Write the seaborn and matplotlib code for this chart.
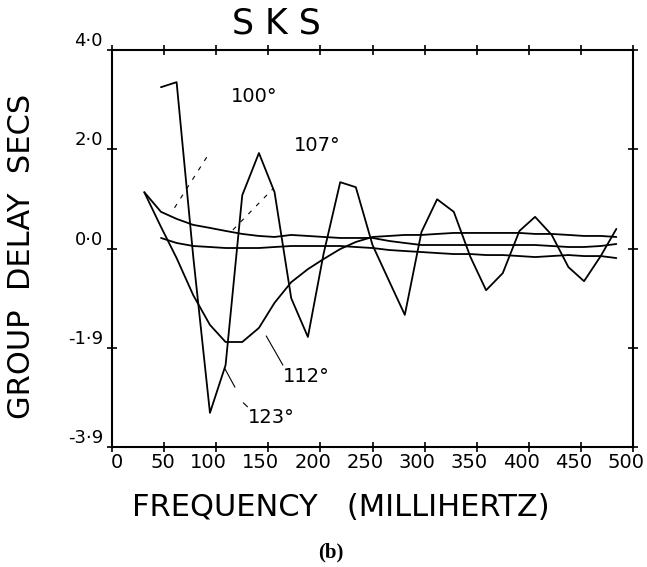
import matplotlib
matplotlib.use("Agg")
import matplotlib.pyplot as plt
import matplotlib.transforms as mtransforms
import seaborn as sns

# frequency samples (millihertz)
freq_a = [31, 47, 62, 78, 94, 109, 125, 141, 156, 172, 188, 203, 219, 234, 250,
          266, 281, 297, 312, 328, 344, 359, 375, 391, 406, 422, 438, 453, 469, 484]
freq_b = freq_a[1:]

# group delay (secs) for each distance
delay_100 = [1.17, 0.78, 0.64, 0.52, 0.46, 0.40, 0.34, 0.30, 0.28, 0.32, 0.30, 0.28, 0.26, 0.26, 0.26,
             0.20, 0.16, 0.12, 0.12, 0.12, 0.12, 0.12, 0.12, 0.12, 0.12, 0.10, 0.08, 0.08, 0.10, 0.14]
delay_107 = [0.26, 0.16, 0.10, 0.08, 0.06, 0.06, 0.06, 0.08, 0.10, 0.10, 0.10, 0.10, 0.08, 0.06,
             0.02, 0.00, -0.02, -0.04, -0.06, -0.06, -0.08, -0.08, -0.10, -0.12, -0.10, -0.08, -0.10, -0.10, -0.14]
delay_112 = [1.17, 0.48, -0.14, -0.88, -1.47, -1.81, -1.81, -1.53, -1.03, -0.62, -0.36, -0.16, 0.04, 0.18, 0.28,
             0.30, 0.32, 0.32, 0.34, 0.36, 0.36, 0.36, 0.36, 0.36, 0.34, 0.34, 0.32, 0.30, 0.30, 0.28]
delay_123 = [3.26, 3.36, -0.12, -3.22, -2.27, 1.11, 1.95, 1.17, -0.94, -1.71, -0.06, 1.37, 1.27, 0.12,
             -0.60, -1.27, 0.38, 1.03, 0.78, -0.12, -0.78, -0.44, 0.40, 0.68, 0.32, -0.32, -0.60, -0.10, 0.44]

xticks = [0, 50, 100, 150, 200, 250, 300, 350, 400, 450, 500]
yticks = [4.0, 2.025, 0.05, -1.925, -3.9]
ytick_labels = ["4·0", "2·0", "0·0", "-1·9", "-3·9"]

# curve labels: text, x, y
labels = [("100°", 136, 3.08), ("107°", 197, 2.09), ("112°", 186, -2.49), ("123°", 153, -3.32)]
# leader lines: (x0, x1), (y0, y1), dashed?
leaders = [((60, 91), (0.86, 1.87), True),
           ((116, 155), (0.42, 1.25), True),
           ((148, 164), (-1.69, -2.27), False),
           ((108, 118), (-2.33, -2.71), False),
           ((126, 130), (-3.02, -3.10), False)]

sns.set_style("ticks")

fig = plt.figure(figsize=(6.47, 5.67), dpi=100)
ax = fig.add_axes([0.1731, 0.2116, 0.8053, 0.7002])

for fx, dy in [(freq_a, delay_100), (freq_b, delay_107), (freq_a, delay_112), (freq_b, delay_123)]:
    sns.lineplot(x=fx, y=dy, color="black", linewidth=1.3, estimator=None, sort=False, ax=ax)

for xs, ys, dashed in leaders:
    ax.plot(xs, ys, color="black", linewidth=0.8, linestyle=(0, (4, 6)) if dashed else "-")

for txt, lx, ly in labels:
    ax.text(lx, ly, txt, ha="center", va="center", fontsize=14, color="black")

ax.set_xlim(0, 500)
ax.set_ylim(-3.9, 4.0)
ax.set_xticks(xticks)
ax.set_xticklabels([str(t) for t in xticks], fontsize=14)
ax.set_yticks(yticks)
ax.set_yticklabels(ytick_labels, fontsize=13)
ax.tick_params(direction="inout", length=7, width=1.2, top=True, right=True, color="black",
               labelcolor="black")
ax.tick_params(axis="x", pad=1)
ax.tick_params(axis="y", pad=3)
for lab in ax.get_yticklabels():
    lab.set_va("bottom")

# x tick labels sit right-aligned a little past their tick
shift = mtransforms.ScaledTranslation(11 / 100, 0, fig.dpi_scale_trans)
for tick in ax.xaxis.get_major_ticks():
    tick.label1.set_ha("right")
    tick.label1.set_transform(tick.label1.get_transform() + shift)

for sp in ax.spines.values():
    sp.set_visible(True)
    sp.set_linewidth(1.5)
    sp.set_color("black")

fig.text(276 / 647, 1 - 23 / 567, "S K S", ha="center", va="center", fontsize=25, color="black")
fig.text(22 / 647, 1 - 256 / 567, "GROUP  DELAY  SECS", rotation=90, ha="center", va="center",
         fontsize=22, color="black")
fig.text(341 / 647, 1 - 508 / 567, "FREQUENCY   (MILLIHERTZ)", ha="center", va="center",
         fontsize=22, color="black")
fig.text(331 / 647, 1 - 552 / 567, "(b)", ha="center", va="center", fontsize=15,
         fontweight="bold", family=['Liberation Serif', 'DejaVu Serif'], color="black")

fig.savefig("out.png", dpi=100)
